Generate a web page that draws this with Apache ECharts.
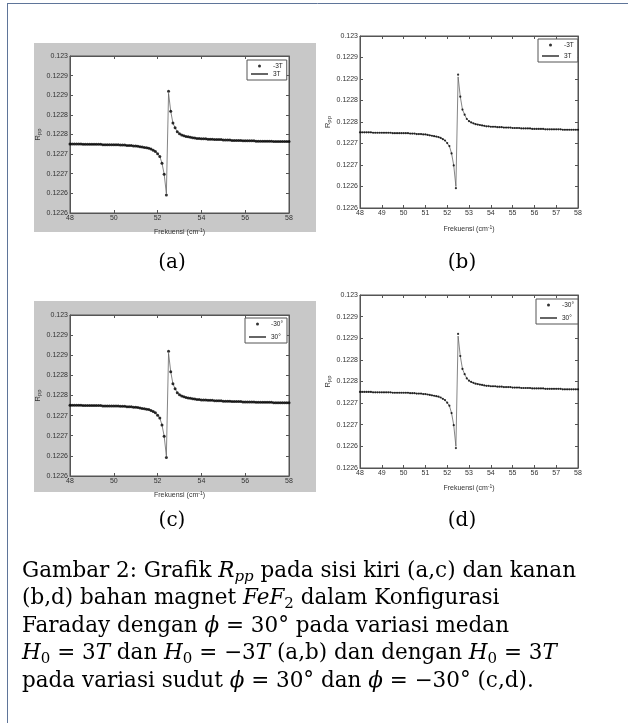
<!DOCTYPE html>
<html><head><meta charset="utf-8">
<script src="https://cdn.jsdelivr.net/npm/echarts@6/dist/echarts.min.js"></script>
<style>html,body{margin:0;padding:0;background:#fff}#c{width:628px;height:723px}</style>
</head><body><div id="c"></div>
<script>
// ---------- data ----------
const freq = [
 48.0,48.1,48.2,48.3,48.4,48.5,48.6,48.7,48.8,48.9,
 49.0,49.1,49.2,49.3,49.4,49.5,49.6,49.7,49.8,49.9,
 50.0,50.1,50.2,50.3,50.4,50.5,50.6,50.7,50.8,50.9,
 51.0,51.1,51.2,51.3,51.4,51.5,51.6,51.7,51.8,51.9,
 52.0,52.1,52.2,52.3,52.4,52.5,52.6,52.7,52.8,52.9,
 53.0,53.1,53.2,53.3,53.4,53.5,53.6,53.7,53.8,53.9,
 54.0,54.1,54.2,54.3,54.4,54.5,54.6,54.7,54.8,54.9,
 55.0,55.1,55.2,55.3,55.4,55.5,55.6,55.7,55.8,55.9,
 56.0,56.1,56.2,56.3,56.4,56.5,56.6,56.7,56.8,56.9,
 57.0,57.1,57.2,57.3,57.4,57.5,57.6,57.7,57.8,57.9,
 58.0];
const rppMinus3T = [
 0.122776,0.122776,0.122776,0.122776,0.122776,0.122776,0.122775,0.122775,0.122775,0.122775,
 0.122775,0.122775,0.122775,0.122775,0.122775,0.122774,0.122774,0.122774,0.122774,0.122774,
 0.122774,0.122774,0.122774,0.122773,0.122773,0.122773,0.122772,0.122772,0.122772,0.122771,
 0.122771,0.122770,0.122769,0.122768,0.122767,0.122766,0.122765,0.122763,0.122760,0.122757,
 0.122751,0.122744,0.122727,0.122699,0.122646,0.122910,0.122859,0.122829,0.122817,0.122807,
 0.122802,0.122799,0.122797,0.122795,0.122794,0.122793,0.122792,0.122791,0.122790,0.122790,
 0.122789,0.122789,0.122789,0.122788,0.122788,0.122788,0.122787,0.122787,0.122787,0.122787,
 0.122786,0.122786,0.122786,0.122786,0.122785,0.122785,0.122785,0.122785,0.122785,0.122784,
 0.122784,0.122784,0.122784,0.122784,0.122784,0.122783,0.122783,0.122783,0.122783,0.122783,
 0.122783,0.122783,0.122783,0.122782,0.122782,0.122782,0.122782,0.122782,0.122782,0.122782,
 0.122782];
const rpp3T = [
 0.122776,0.122776,0.122776,0.122776,0.122776,0.122776,0.122775,0.122775,0.122775,0.122775,
 0.122775,0.122775,0.122775,0.122775,0.122775,0.122774,0.122774,0.122774,0.122774,0.122774,
 0.122774,0.122774,0.122774,0.122773,0.122773,0.122773,0.122772,0.122772,0.122772,0.122771,
 0.122771,0.122770,0.122769,0.122768,0.122767,0.122766,0.122765,0.122763,0.122760,0.122757,
 0.122751,0.122744,0.122727,0.122699,0.122650,0.122905,0.122859,0.122829,0.122817,0.122807,
 0.122802,0.122799,0.122797,0.122795,0.122794,0.122793,0.122792,0.122791,0.122790,0.122790,
 0.122789,0.122789,0.122789,0.122788,0.122788,0.122788,0.122787,0.122787,0.122787,0.122787,
 0.122786,0.122786,0.122786,0.122786,0.122785,0.122785,0.122785,0.122785,0.122785,0.122784,
 0.122784,0.122784,0.122784,0.122784,0.122784,0.122783,0.122783,0.122783,0.122783,0.122783,
 0.122783,0.122783,0.122783,0.122782,0.122782,0.122782,0.122782,0.122782,0.122782,0.122782,
 0.122782];
const rppMinus30 = rppMinus3T.slice();
const rpp30 = rpp3T.slice();
const yTickLabels = ['0.1226','0.1226','0.1227','0.1227','0.1228','0.1228','0.1229','0.1229','0.123'];
const seriesNames = [['-3T','3T'],['-3T','3T'],['-30°','30°'],['-30°','30°']];
const seriesData = [[rppMinus3T,rpp3T],[rppMinus3T,rpp3T],[rppMinus30,rpp30],[rppMinus30,rpp30]];
const panelLabels = ['(a)','(b)','(c)','(d)'];

// ---------- layout ----------
const P = [
 {left:70, top:56, width:219, height:157, xInt:2, sym:3, nameGap:15, yGap:28, lg:{left:247, top:60, gap:0}, cap:[172,263], bg:[34,43,282,189]},
 {left:360,top:36, width:218, height:172, xInt:1, sym:2.2, nameGap:17, yGap:27, lg:{left:538, top:39, gap:3}, cap:[462,263]},
 {left:70, top:315,width:219, height:161, xInt:2, sym:3, nameGap:15, yGap:28, lg:{left:245, top:318, gap:5}, cap:[172,521], bg:[34,301,282,191]},
 {left:360,top:295,width:218, height:173, xInt:1, sym:2.2, nameGap:16, yGap:27, lg:{left:536, top:299, gap:5}, cap:[462,521]}
];
const AX = '#555', TXT = '#333', SANS = 'Liberation Sans', SERIF = 'DejaVu Serif';

const grids = [], xAxes = [], yAxes = [], series = [], legends = [], graphics = [];
P.forEach((p,i)=>{
  grids.push({left:p.left, top:p.top, width:p.width, height:p.height, show:true, backgroundColor:'#fff', borderColor:AX, borderWidth:1, containLabel:false});
  const xb = {type:'value', gridIndex:i, min:48, max:58, interval:p.xInt,
    axisLine:{show:true,onZero:false,lineStyle:{color:AX,width:1}},
    axisTick:{show:true,inside:true,length:3,lineStyle:{color:AX,width:1}},
    splitLine:{show:false}};
  xAxes.push(Object.assign({}, xb, {position:'bottom',
    axisLabel:{show:true,margin:2,fontFamily:SANS,fontSize:7,color:TXT,showMinLabel:true,showMaxLabel:true},
    name:'Frekuensi (cm{sup|-1})', nameLocation:'middle', nameGap:p.nameGap,
    nameTextStyle:{fontFamily:SANS,fontSize:7,color:TXT,lineHeight:9,rich:{sup:{fontFamily:SANS,fontSize:5,color:TXT,lineHeight:5,verticalAlign:'top'}}}}));
  xAxes.push(Object.assign({}, xb, {position:'top', axisLabel:{show:false}}));
  const yb = {type:'value', gridIndex:i, min:0.1226, max:0.123, interval:0.00005,
    axisLine:{show:true,onZero:false,lineStyle:{color:AX,width:1}},
    axisTick:{show:true,inside:true,length:3,lineStyle:{color:AX,width:1}},
    splitLine:{show:false}};
  yAxes.push(Object.assign({}, yb, {position:'left',
    axisLabel:{show:true,margin:2,fontFamily:SANS,fontSize:7,color:TXT,showMinLabel:true,showMaxLabel:true,
      formatter:v=>yTickLabels[Math.round((v-0.1226)/0.00005)]},
    name:'R{sub|pp}', nameLocation:'middle', nameGap:p.yGap, nameRotate:90,
    nameTextStyle:{fontFamily:SANS,fontSize:7.5,color:TXT,lineHeight:9,rich:{sub:{fontFamily:SANS,fontSize:6,color:TXT,lineHeight:6,verticalAlign:'bottom'}}}}));
  yAxes.push(Object.assign({}, yb, {position:'right', axisLabel:{show:false}}));
  const [nDot,nLine] = seriesNames[i];
  const [dDot,dLine] = seriesData[i];
  series.push({type:'line', name:nLine, xAxisIndex:2*i, yAxisIndex:2*i, symbol:'none', z:2,
    lineStyle:{color:'#666',width:0.8}, itemStyle:{color:'#666'}, animation:false,
    data:freq.map((f,k)=>[f,dLine[k]])});
  series.push({type:'scatter', name:nDot, xAxisIndex:2*i, yAxisIndex:2*i, symbol:'circle', symbolSize:p.sym, z:3,
    itemStyle:{color:'#000'}, animation:false,
    data:freq.map((f,k)=>[f,dDot[k]])});
  legends.push({left:p.lg.left, top:p.lg.top, orient:'vertical', itemWidth:17, itemHeight:3, itemGap:p.lg.gap,
    padding:[2,4,2,3], borderColor:AX, borderWidth:1, backgroundColor:'#fff', selectedMode:false, z:10,
    textStyle:{fontFamily:SANS,fontSize:6.5,color:'#222',lineHeight:8},
    data:[{name:nDot, icon:'circle'}, {name:nLine, itemStyle:{color:'rgba(0,0,0,0)',borderColor:'rgba(0,0,0,0)'}}]});
  if (p.bg) graphics.push({type:'rect', z:-10, shape:{x:p.bg[0],y:p.bg[1],width:p.bg[2],height:p.bg[3]}, style:{fill:'#c8c8c8'}});
  graphics.push({type:'text', x:p.cap[0], y:p.cap[1], style:{text:panelLabels[i], fontFamily:SERIF, fontSize:20, fill:'#000', textAlign:'center', textVerticalAlign:'middle'}});
});

// frame
graphics.push({type:'line', shape:{x1:7.5,y1:3,x2:7.5,y2:723}, style:{stroke:'#5f7599',lineWidth:1}});
graphics.push({type:'line', shape:{x1:7,y1:3.5,x2:628,y2:3.5}, style:{stroke:'#5f7599',lineWidth:1}});

// caption
const capLines = [
 'Gambar 2: Grafik {it|R}{sub|pp} pada sisi kiri (a,c) dan kanan',
 '(b,d) bahan magnet {it|FeF}{subr|2} dalam Konfigurasi',
 'Faraday dengan {it|ϕ} = 30° pada variasi medan',
 '{it|H}{subr|0} = 3{it|T} dan {it|H}{subr|0} = −3{it|T} (a,b) dan dengan {it|H}{subr|0} = 3{it|T}',
 'pada variasi sudut {it|ϕ} = 30° dan {it|ϕ} = −30° (c,d).'
];
const capY = [571, 598, 626, 653, 681];
const FS = 21.5;
capLines.forEach((t,k)=>{
  graphics.push({type:'text', x:22, y:capY[k], style:{text:t, fontFamily:SERIF, fontSize:FS, fill:'#000', lineHeight:27,
    textAlign:'left', textVerticalAlign:'middle',
    rich:{
      it:{fontFamily:SERIF, fontStyle:'italic', fontSize:FS, lineHeight:27},
      sub:{fontFamily:SERIF, fontStyle:'italic', fontSize:15, lineHeight:15, verticalAlign:'bottom'},
      subr:{fontFamily:SERIF, fontSize:15, lineHeight:15, verticalAlign:'bottom'}
    }}});
});

const chart = echarts.init(document.getElementById('c'), null, {renderer:'canvas'});
chart.setOption({
  backgroundColor:'#fff', animation:false,
  grid:grids, xAxis:xAxes, yAxis:yAxes, series:series, legend:legends, graphic:graphics
});
</script></body></html>
